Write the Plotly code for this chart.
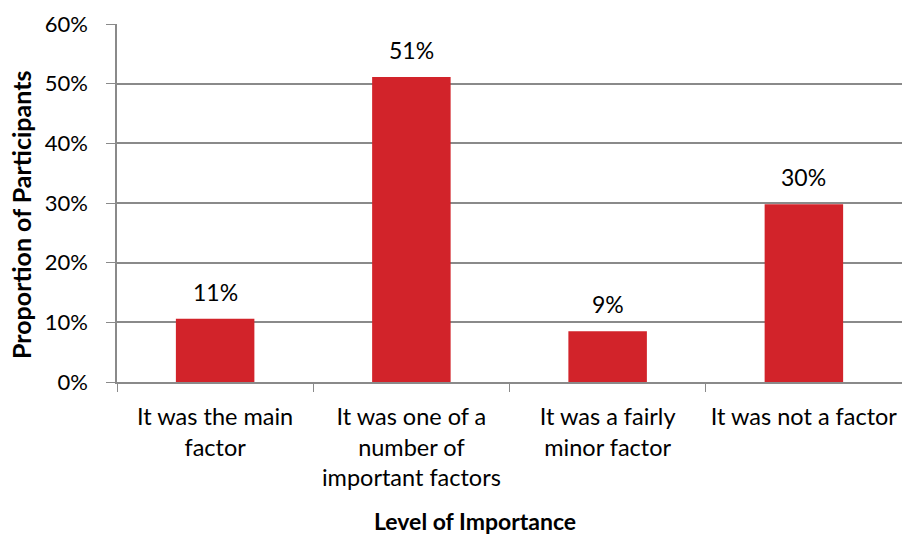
import plotly.graph_objects as go

categories = ["It was the main<br>factor", "It was one of a<br>number of<br>important factors",
              "It was a fairly<br>minor factor", "It was not a factor"]
values = [10.6, 51.1, 8.5, 29.8]
labels = ["11%", "51%", "9%", "30%"]
y_ticks = [0, 10, 20, 30, 40, 50, 60]
y_tick_labels = ["0%", "10%", "20%", "30%", "40%", "50%", "60%"]

FONT = "Lato, Open Sans, sans-serif"
GRID = "#8a8a8a"

fig = go.Figure(go.Bar(
    x=categories, y=values,
    marker=dict(color="#D2232A", line=dict(width=0)),
    width=0.4, hoverinfo="skip",
))

annotations = [
    dict(x=c, y=v, text=t, xref="x", yref="y", showarrow=False,
         yanchor="bottom", yshift=11, font=dict(size=23, family=FONT, color="black"))
    for c, v, t in zip(categories, values, labels)
]
annotations += [
    dict(text="<b>Level of Importance</b>", xref="paper", yref="paper",
         x=(475 - 117) / 785, y=-(521 - 382) / 358, showarrow=False,
         xanchor="center", yanchor="middle", font=dict(size=23, family=FONT)),
    dict(text="<b>Proportion of Participants</b>", xref="paper", yref="paper",
         x=-(117 - 21) / 785, y=(382 - 215) / 358, showarrow=False, textangle=-90,
         xanchor="center", yanchor="middle", font=dict(size=25, family=FONT)),
]

fig.update_layout(
    width=902, height=534,
    margin=dict(l=117, r=0, t=24, b=152),
    plot_bgcolor="white", paper_bgcolor="white",
    font=dict(family=FONT, size=23, color="black"),
    showlegend=False,
    xaxis=dict(
        tickson="boundaries", ticks="outside", ticklen=8, tickcolor=GRID,
        showline=True, linecolor=GRID, linewidth=1.5, showgrid=False,
        tickfont=dict(size=23.5, family=FONT, color="black"),
        ticklabelstandoff=13, tickangle=0, automargin=False,
    ),
    yaxis=dict(
        range=[0, 60], tickvals=y_ticks, ticktext=y_tick_labels,
        ticks="outside", ticklen=9, tickcolor=GRID,
        showline=True, linecolor=GRID, linewidth=1.5,
        showgrid=True, gridcolor=GRID, gridwidth=1.5,
        tickfont=dict(size=22, family=FONT, color="black"),
        ticklabelstandoff=14, zeroline=False, automargin=False,
    ),
    annotations=annotations,
)

fig.write_html("out.html", config={"displayModeBar": False},
               post_script="document.body.style.margin='0';")
